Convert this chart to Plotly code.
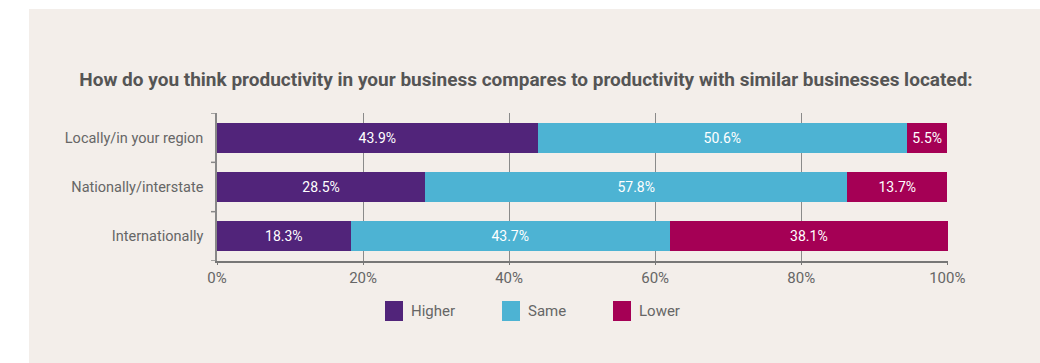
import plotly.graph_objects as go

categories = ["Locally/in your region", "Nationally/interstate", "Internationally"]
higher = [43.9, 28.5, 18.3]
same = [50.6, 57.8, 43.7]
lower = [5.5, 13.7, 38.1]
series_names = ["Higher", "Same", "Lower"]
colors = ["#51247A", "#4DB3D3", "#A50055"]
tick_vals = [0, 20, 40, 60, 80, 100]
tick_text = ["0%", "20%", "40%", "60%", "80%", "100%"]
title = "How do you think productivity in your business compares to productivity with similar businesses located:"

W, H = 1040, 363
L, R, T, B = 217, 92, 113, 102
PW, PH = W - L - R, H - T - B

def px_x(x):  # pixel -> paper x
    return (x - L) / PW

def px_y(y):  # pixel -> paper y
    return (H - B - y) / PH

fig = go.Figure()
for name, vals, col in zip(series_names, [higher, same, lower], colors):
    fig.add_trace(go.Bar(
        y=categories, x=vals, orientation="h", name=name,
        marker=dict(color=col, line=dict(width=0)),
        text=[f"{v:.1f}%" for v in vals], textposition="inside",
        insidetextanchor="middle", textangle=0,
        textfont=dict(color="white", size=14, family="Roboto"),
        showlegend=False,
    ))

# panel background
fig.add_shape(type="rect", xref="paper", yref="paper",
              x0=px_x(29), x1=px_x(1040), y0=px_y(364), y1=px_y(9),
              fillcolor="#F3EEEA", line=dict(width=0), layer="below")

# left axis boundary ticks
n = len(categories)
for i in range(n + 1):
    yv = i - 0.5
    fig.add_shape(type="line", xref="paper", yref="y",
                  x0=px_x(211), x1=0, y0=yv, y1=yv,
                  line=dict(color="#888888", width=1.5))

# legend (manual, from series names/colours)
leg_sq_x = [385, 502, 613]
for name, col, sx in zip(series_names, colors, leg_sq_x):
    fig.add_shape(type="rect", xref="paper", yref="paper",
                  x0=px_x(sx), x1=px_x(sx + 18), y0=px_y(321), y1=px_y(301),
                  fillcolor=col, line=dict(width=0))
    fig.add_annotation(xref="paper", yref="paper", x=px_x(sx + 24), y=px_y(311),
                       text=name, showarrow=False, xanchor="left", yanchor="middle",
                       font=dict(size=15, color="#666666", family="Roboto"))

fig.update_layout(
    width=W, height=H,
    margin=dict(l=L, r=R, t=T, b=B),
    paper_bgcolor="white", plot_bgcolor="rgba(0,0,0,0)",
    barmode="stack", bargap=0.39,
    font=dict(family="Roboto", color="#666666"),
    title=dict(text=f"<b>{title}</b>", x=526 / W, xref="container", xanchor="center",
               y=1 - 79 / H, yanchor="middle", yref="container",
               font=dict(size=19, color="#555555", family="Roboto")),
    xaxis=dict(range=[0, 100.1], tickvals=tick_vals, ticktext=tick_text,
               showgrid=True, gridcolor="#8a8a8a", gridwidth=1,
               showline=True, linecolor="#777777", linewidth=1.5,
               ticks="outside", ticklen=2, tickcolor="#777777",
               tickfont=dict(size=15, color="#666666"), zeroline=False,
               fixedrange=True),
    yaxis=dict(showline=True, linecolor="#888888", linewidth=1.5,
               ticks="", ticklabelstandoff=9, tickfont=dict(size=14.5, color="#666666"),
               showgrid=False, range=[n - 0.5, -0.5]),
    showlegend=False,
)

fig.write_html("out.html")
